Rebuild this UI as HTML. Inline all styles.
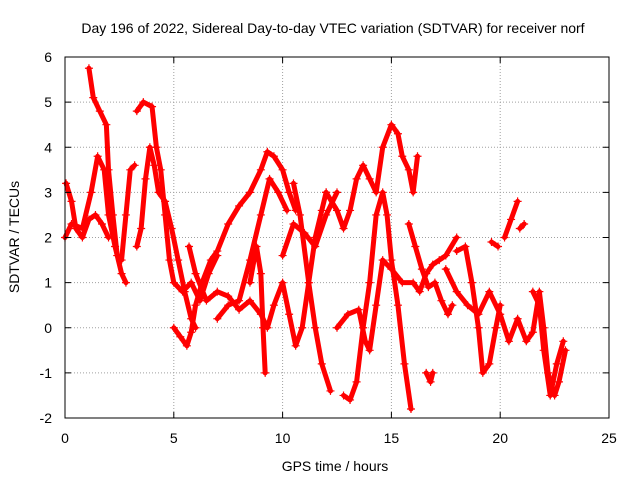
<!DOCTYPE html>
<html><head><meta charset="utf-8"><style>
body{margin:0;background:#fff;}
svg text{font-family:"Liberation Sans",sans-serif;fill:#000;}
</style></head><body>
<svg id="chart" width="640" height="480" xmlns="http://www.w3.org/2000/svg">
<text x="333" y="33" font-size="14" text-anchor="middle">Day 196 of 2022, Sidereal Day-to-day VTEC variation (SDTVAR) for receiver norf</text>
<text x="335" y="471" font-size="14" text-anchor="middle">GPS time / hours</text>
<text transform="translate(19,237) rotate(-90)" font-size="14" text-anchor="middle">SDTVAR / TECUs</text>
<g id="grid"></g><g id="series"></g><g id="axes"></g>
</svg>
<script>
const xTicks=[0,5,10,15,20,25];
const yTicks=[-2,-1,0,1,2,3,4,5,6];
const tracks=[
[[0,2.0],[0.3,2.3],[0.8,2.2],[1.2,3.0],[1.5,3.8],[1.8,3.5],[2.0,2.5],[2.3,1.8],[2.6,1.2],[2.8,1.0]],
[[0.05,3.2],[0.3,2.8],[0.5,2.2],[0.8,2.0],[1.1,2.4],[1.4,2.5],[1.7,2.3],[2.0,2.0]],
[[1.1,5.75],[1.3,5.1],[1.6,4.8],[1.9,4.5],[2.0,3.5],[2.2,2.5],[2.4,1.6],[2.6,1.5],[2.8,2.5],[3.0,3.5],[3.2,3.6]],
[[3.3,4.8],[3.6,5.0],[4.0,4.9],[4.2,4.0],[4.4,3.5],[4.6,2.5],[4.8,1.5],[5.0,1.0],[5.4,0.8],[5.8,1.0],[6.2,0.6],[6.6,1.2],[7.0,1.6]],
[[3.3,1.8],[3.5,2.2],[3.7,3.3],[3.9,4.0],[4.1,3.6],[4.3,3.0],[4.6,2.8],[4.9,2.2],[5.2,1.5],[5.5,0.8],[5.8,0.2],[6.0,0.0]],
[[5.0,0.0],[5.3,-0.2],[5.6,-0.4],[5.8,-0.1],[6.0,0.5],[6.3,1.0],[6.7,1.5],[7.0,1.7],[7.5,2.3],[8.0,2.7],[8.5,3.0],[9.0,3.5],[9.3,3.9],[9.6,3.8],[10.0,3.5],[10.3,3.0],[10.6,2.6]],
[[5.7,1.8],[6.0,1.2],[6.5,0.6],[7.0,0.8],[7.5,0.7],[8.0,0.4],[8.5,0.6],[9.0,0.3],[9.3,0.0],[9.6,0.5],[10.0,1.0],[10.3,0.3],[10.6,-0.4],[10.9,0.0],[11.2,1.0],[11.5,2.0],[11.8,2.6],[12.0,3.0]],
[[7.0,0.2],[7.5,0.5],[8.0,0.6],[8.5,1.5],[9.0,2.5],[9.4,3.3],[9.8,3.0],[10.2,2.6]],
[[8.5,1.0],[8.8,1.8],[9.0,1.2],[9.1,0.0],[9.2,-1.0]],
[[10.0,1.6],[10.5,2.3],[11.0,2.1],[11.5,1.8],[12.0,2.5],[12.5,3.0]],
[[10.5,3.2],[10.8,2.5],[11.2,1.0],[11.5,0.0],[11.8,-0.8],[12.2,-1.4]],
[[12.0,3.0],[12.5,2.6],[12.8,2.2],[13.1,2.6],[13.4,3.3],[13.7,3.6],[14.0,3.3],[14.3,3.0],[14.6,4.0],[15.0,4.5],[15.3,4.3],[15.5,3.8],[15.8,3.5],[16.0,3.0],[16.2,3.8]],
[[12.8,-1.5],[13.1,-1.6],[13.4,-1.2],[13.7,0.0],[14.0,1.0],[14.3,2.5],[14.6,3.0],[14.8,2.5],[15.0,1.5],[15.3,0.5],[15.6,-0.8],[15.9,-1.8]],
[[12.5,0.0],[13.0,0.3],[13.5,0.4],[13.8,-0.3],[14.0,-0.5],[14.3,0.5],[14.6,1.5],[15.0,1.3],[15.5,1.0],[16.0,1.0],[16.3,0.8],[16.6,1.2],[16.9,1.4],[17.2,1.5],[17.5,1.6],[18.0,2.0]],
[[15.8,2.3],[16.1,1.8],[16.4,1.3],[16.7,0.9],[17.0,1.0],[17.3,0.6],[17.6,0.3],[17.8,0.5]],
[[16.6,-1.0],[16.8,-1.2],[16.9,-1.0]],
[[18.0,1.7],[18.4,1.8],[18.7,1.0],[19.0,0.0],[19.2,-1.0],[19.5,-0.8],[19.8,0.0],[20.0,0.5]],
[[17.5,1.3],[18.0,0.8],[18.5,0.5],[19.0,0.3],[19.5,0.8],[20.0,0.3],[20.4,-0.3],[20.8,0.2],[21.2,-0.3],[21.5,-0.1],[21.8,0.8],[22.0,0.0],[22.2,-1.0],[22.5,-1.5],[22.7,-1.2],[23.0,-0.5]],
[[19.6,1.9],[19.9,1.8]],
[[20.2,2.0],[20.5,2.4],[20.8,2.8]],
[[20.9,2.2],[21.1,2.3]],
[[21.5,0.8],[21.8,0.5],[22.0,-0.5],[22.3,-1.5],[22.6,-0.8],[22.9,-0.3]]
];
const L=65,R=609,T=57,B=418;
const X=t=>L+(t-0)/(25-0)*(R-L);
const Y=v=>B-(v+2)/8*(B-T);
const NS="http://www.w3.org/2000/svg";
const grid=document.getElementById('grid'),axes=document.getElementById('axes'),ser=document.getElementById('series');
function mk(tag,attrs,parent){const e=document.createElementNS(NS,tag);for(const k in attrs)e.setAttribute(k,attrs[k]);parent.appendChild(e);return e;}
xTicks.forEach(t=>{
 if(t>0&&t<25){const g=mk('line',{x1:X(t),x2:X(t),y1:T,y2:B,stroke:'#a0a0a0','stroke-dasharray':'1,2'},grid);
 
 }
 mk('line',{x1:X(t),x2:X(t),y1:B,y2:B-6,stroke:'#000'},axes);
 mk('line',{x1:X(t),x2:X(t),y1:T,y2:T+6,stroke:'#000'},axes);
 const tx=mk('text',{x:X(t),y:B+25,'font-size':14,'text-anchor':'middle'},axes);tx.textContent=t;
 
 
});
yTicks.forEach(v=>{
 if(v>-2&&v<6){const g=mk('line',{x1:L,x2:R,y1:Y(v),y2:Y(v),stroke:'#a0a0a0','stroke-dasharray':'1,2'},grid);
 
 }
 mk('line',{x1:L,x2:L+6,y1:Y(v),y2:Y(v),stroke:'#000'},axes);
 mk('line',{x1:R,x2:R-6,y1:Y(v),y2:Y(v),stroke:'#000'},axes);
 const tx=mk('text',{x:L-13,y:Y(v)+5,'font-size':14,'text-anchor':'end'},axes);tx.textContent=v;
 
 
});
const fr=mk('rect',{x:L,y:T,width:R-L,height:B-T,fill:'none',stroke:'#000'},axes);


tracks.forEach(tr=>{
 const pts=tr.map(p=>X(p[0])+','+Y(p[1])).join(' ');
 const pl=mk('polyline',{points:pts,fill:'none',stroke:'#ff0000','stroke-width':5,'stroke-linejoin':'round','stroke-linecap':'round'},ser);
 
 
 tr.forEach(p=>{
  const m=mk('path',{d:`M${X(p[0])-4},${Y(p[1])}h8M${X(p[0])},${Y(p[1])-4}v8`,stroke:'#ff0000','stroke-width':1.2},ser);
  
  
 });
});
</script>
</body></html>
